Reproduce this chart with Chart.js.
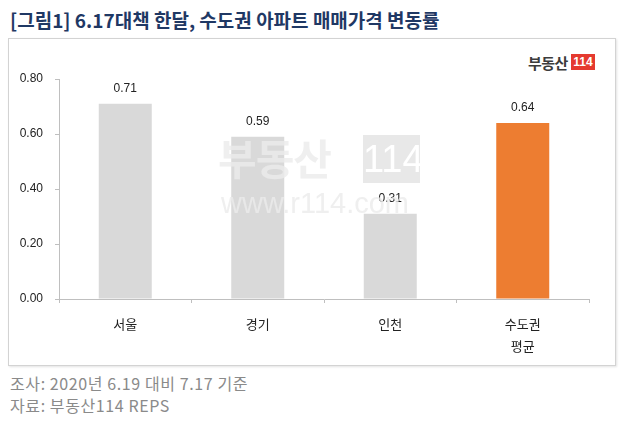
<!DOCTYPE html>
<html>
<head>
<meta charset="utf-8">
<script src="https://cdn.jsdelivr.net/npm/chart.js@4"></script>
<style>
  body { margin:0; width:630px; height:426px; background:#fff; position:relative; overflow:hidden; font-family:"Noto Sans CJK KR", sans-serif; }
  .title { position:absolute; left:10px; top:6px; font-size:19px; font-weight:bold; color:#1f3864; letter-spacing:0; }
  .box { position:absolute; left:8px; top:38px; width:606px; height:326px; border:1px solid #d3d3d3; box-shadow:1px 1px 2px #e4e4e4; }
  .logo { position:absolute; left:528px; top:54px; height:16px; display:flex; align-items:center; }
  .logo .txt { font-size:15px; font-weight:bold; color:#3c3c3c; letter-spacing:-0.5px; }
  .logo .red { margin-left:3px; background:#e53a2f; color:#fff; font-family:"Liberation Sans", sans-serif; font-size:12px; font-weight:bold; height:16px; width:24px; line-height:16px; text-align:center; }
  .wm { position:absolute; z-index:2; }
  .wm1 { left:218px; top:126px; font-size:42px; font-weight:bold; color:rgba(235,235,235,0.8); letter-spacing:-1px; }
  .wm2 { left:363px; top:135px; width:57px; height:48px; background:rgba(228,228,228,0.85); color:#fff; font-family:"Liberation Sans", sans-serif; font-size:38px; line-height:48px; text-align:center; }
  .wm3 { left:221px; top:187px; font-family:"Liberation Sans", sans-serif; font-size:29px; color:rgba(235,235,235,0.8); }
  .foot { position:absolute; left:10px; font-size:16px; color:#8a8a8a; letter-spacing:0.6px; }
  canvas { position:absolute; left:0; top:0; z-index:1; }
</style>
</head>
<body>
<div class="title">[그림1] 6.17대책 한달, 수도권 아파트 매매가격 변동률</div>
<div class="box"></div>
<div class="wm wm1">부동산</div>
<div class="wm wm2">114</div>
<div class="wm wm3">www.r114.com</div>
<div class="logo"><span class="txt">부동산</span><span class="red">114</span></div>
<div class="foot" style="top:371px">조사: 2020년 6.19 대비 7.17 기준</div>
<div class="foot" style="top:393px">자료: 부동산114 REPS</div>
<canvas id="chart" width="630" height="426"></canvas>
<script>
const categories = ['서울', '경기', '인천', ['수도권', '평균']];
const changeRates = [0.71, 0.59, 0.31, 0.64];
const barColors = ['#d9d9d9', '#d9d9d9', '#d9d9d9', '#ed7d31'];
const yTicks = [0, 0.2, 0.4, 0.6, 0.8];

// value labels above the bars
const valueLabels = {
  id: 'valueLabels',
  afterDatasetsDraw(chart) {
    const ctx = chart.ctx;
    const meta = chart.getDatasetMeta(0);
    ctx.save();
    ctx.font = '12px "Liberation Sans", sans-serif';
    ctx.fillStyle = '#222';
    ctx.textAlign = 'center';
    ctx.textBaseline = 'middle';
    meta.data.forEach((bar, i) => {
      ctx.fillText(changeRates[i].toFixed(2), bar.x, bar.y - 15);
    });
    ctx.restore();
  }
};

new Chart(document.getElementById('chart'), {
  type: 'bar',
  data: {
    labels: categories,
    datasets: [{
      data: changeRates,
      backgroundColor: barColors,
      barPercentage: 1,
      categoryPercentage: 0.4
    }]
  },
  options: {
    responsive: false,
    animation: false,
    layout: { padding: { left: 0, right: 41, top: 79, bottom: 0 } },
    plugins: { legend: { display: false }, tooltip: { enabled: false } },
    scales: {
      y: {
        min: 0,
        max: 0.8,
        afterFit: s => { s.width = 59; },
        afterBuildTicks: s => { s.ticks = yTicks.map(v => ({ value: v })); },
        ticks: {
          padding: 12,
          color: '#222',
          font: { family: '"Liberation Sans", sans-serif', size: 12 },
          callback: v => v.toFixed(2)
        },
        grid: { drawOnChartArea: false, tickLength: 4, color: '#bfbfbf' },
        border: { color: '#bfbfbf' }
      },
      x: {
        afterFit: s => { s.height = 127; },
        ticks: {
          padding: 10,
          color: '#222',
          font: { family: '"Noto Sans CJK KR", sans-serif', size: 13, lineHeight: 1.7 }
        },
        grid: { offset: true, drawOnChartArea: false, tickLength: 4, color: '#bfbfbf' },
        border: { color: '#bfbfbf' }
      }
    }
  },
  plugins: [valueLabels]
});
</script>
</body>
</html>
